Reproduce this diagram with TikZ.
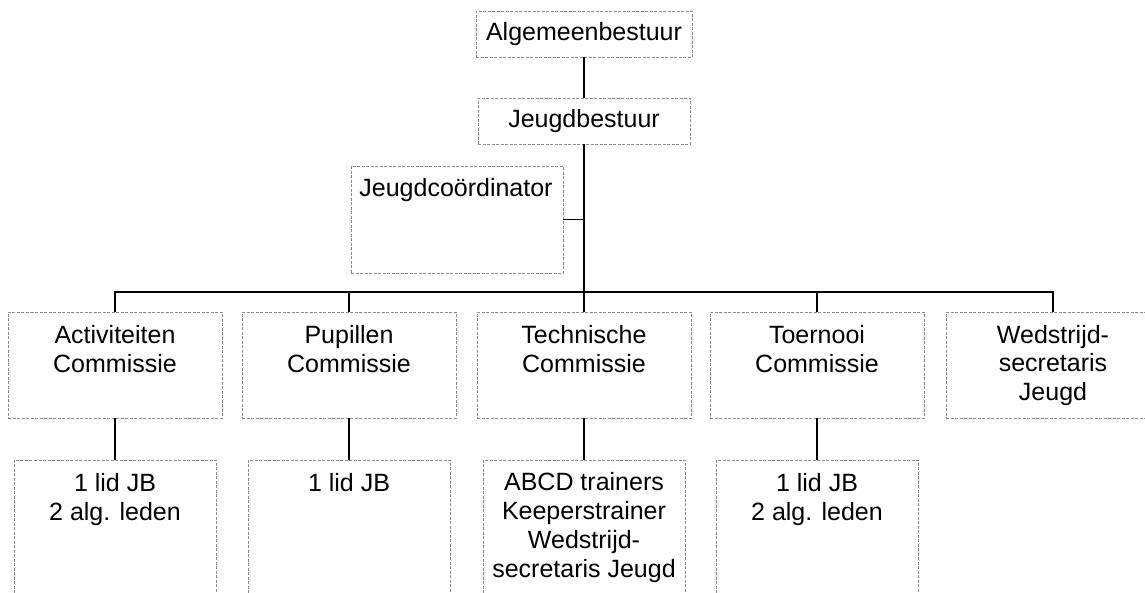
\documentclass[tikz,border=0pt]{standalone}
\usepackage{fontspec}
\setmainfont{Liberation Sans}
\begin{document}
\begin{tikzpicture}[x=1pt,y=-1pt,
  box/.style={draw=black!45, dash pattern=on 3pt off 1.5pt, line width=0.9pt, inner sep=0pt},
  upbox/.style={box, minimum width=214pt, minimum height=106pt},
  lowbox/.style={box, minimum width=202pt, minimum height=150pt},
  lbl/.style={font=\fontsize{25}{28.8}\selectfont, align=center, anchor=base, inner sep=0pt},
  conn/.style={line width=1.8pt, black}]
\useasboundingbox (0,0) rectangle (1145,592);
\clip (0,0) rectangle (1145,592);
% top
\node[box, minimum width=216pt, minimum height=46pt, font=\fontsize{25}{29}\selectfont] (alg) at (584,34) {Algemeenbestuur};
\node[box, minimum width=212pt, minimum height=46pt, font=\fontsize{25}{29}\selectfont] (jb) at (584,121) {Jeugdbestuur};
\node[box, minimum width=212pt, minimum height=107pt] (jc) at (457,219.5) {};
\node[lbl] (jct) at (456,196) {Jeugdco\"ordinator};
% upper row (base anchor = last line)
\node[upbox] (act) at (115,365) {};
\node[upbox] (pup) at (349,365) {};
\node[upbox] (tech) at (584,365) {};
\node[upbox] (toer) at (817,365) {};
\node[upbox] (wed) at (1053,365) {};
\node[lbl] (actt) at (115,372) {Activiteiten\\Commissie};
\node[lbl] (pupt) at (349,372) {Pupillen\\Commissie};
\node[lbl] (techt) at (584,372) {Technische\\Commissie};
\node[lbl] (toert) at (817,372) {Toernooi\\Commissie};
\node[lbl] (wedt) at (1053,400.6) {Wedstrijd-\\secretaris\\Jeugd};
% lower row
\node[lowbox] (actl) at (115,535) {};
\node[lowbox] (pupl) at (349,535) {};
\node[lowbox] (techl) at (584,535) {};
\node[lowbox] (toerl) at (817,535) {};
\node[lbl] (actlt) at (115,520) {1 lid JB\\2 alg. leden};
\node[lbl] (puplt) at (349,491) {1 lid JB};
\node[lbl] (techlt) at (584,577) {ABCD trainers\\Keeperstrainer\\Wedstrijd-\\secretaris Jeugd};
\node[lbl] (toerlt) at (817,520) {1 lid JB\\2 alg. leden};
% connectors
\coordinate (bus) at (584,292);
\draw[conn] (alg.south) -- (jb.north);
\draw[conn] (jb.south) -- (tech.north);
\draw[conn] (jc.east) -- (jc.east -| jb.south);
\draw[conn] (act.north) |- (bus) -| (wed.north);
\draw[conn] (pup.north) -- (pup.north |- bus);
\draw[conn] (toer.north) -- (toer.north |- bus);
\draw[conn] (act.south) -- (actl.north);
\draw[conn] (pup.south) -- (pupl.north);
\draw[conn] (tech.south) -- (techl.north);
\draw[conn] (toer.south) -- (toerl.north);
\end{tikzpicture}
\end{document}
